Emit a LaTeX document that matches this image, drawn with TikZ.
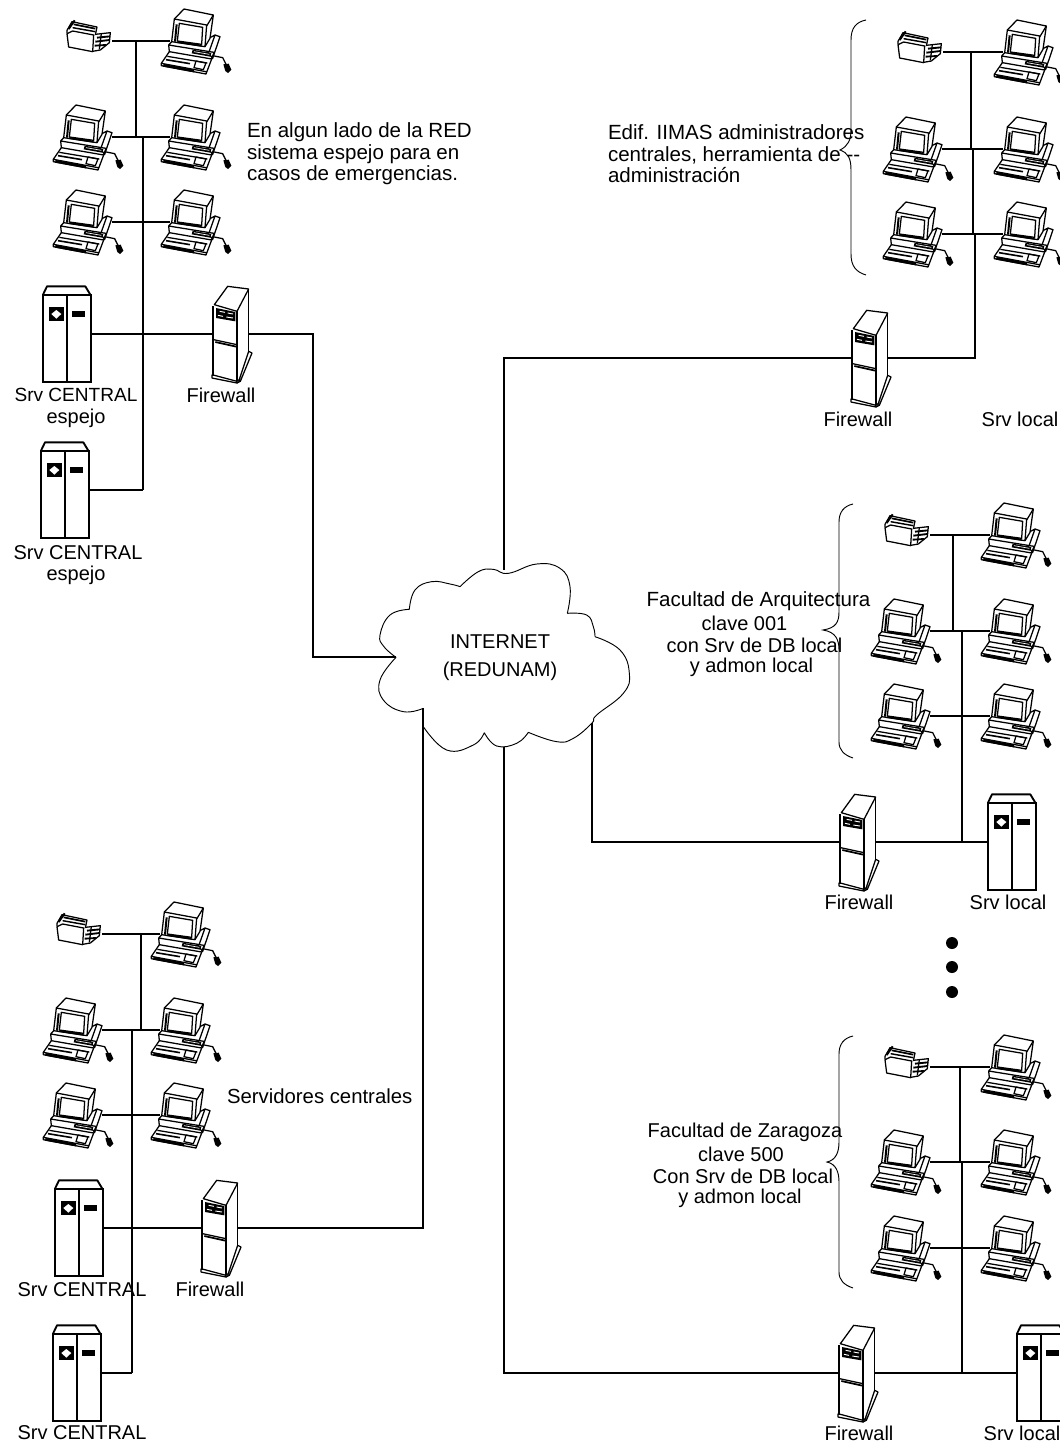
\documentclass[tikz,border=0pt]{standalone}
\usepackage{fontspec}
\setmainfont{Liberation Sans}
\tikzset{
  conn/.style={draw=black,line width=0.95pt},
  lbl/.style={inner sep=0pt,outer sep=0pt,font=\fontsize{15}{16.1}\selectfont,text=black},
  lblw/.style={lbl,font=\fontsize{15.4}{16.1}\selectfont},
  bracket/.style={draw=black,line width=0.7pt},
  thin icon/.style={draw=black,line width=0.95pt,line join=round},
  pics/pc/.style={code={
    \coordinate (-l) at (0,0);
    \coordinate (-r) at (37.5pt,0pt);
    \begin{scope}[x=0.25pt,y=-0.25pt,thin icon]
      \draw (13,-66) -- (42,-96) -- (130,-78) -- (110,-45);
      \draw (13,-66) -- (110,-48) -- (105,17) -- (5,2) -- cycle;
      \draw (28,-53) -- (98,-41) -- (95,10) -- (22,0) -- cycle;
      \draw[line width=1.5pt] (20,-50) -- (15,2);
      \draw[line width=1.5pt] (22,3) -- (95,14);
      \draw (130,-78) -- (120,-8) -- (105,17);
      \draw (135,-18) -- (150,-13) -- (128,52) -- (112,32);
      \draw (120,-10) -- (135,-18) -- (118,30);
      \draw (5,2) -- (-4,12) -- (-2,32) -- (125,54) -- (132,34) -- (-4,12);
      \draw (-26,67) -- (-2,32);
      \draw (125,54) -- (108,99) -- (-26,74) -- (-26,67) -- (108,92);
      \draw (-8,46) -- (112,66);
      \draw[line width=1.2pt] (-12,56) -- (60,68);
      \draw[line width=2pt] (-20,73) -- (72,90);
      \draw (78,60) -- (108,66) -- (100,86) -- (72,80) -- cycle;
      \fill (68,26) -- (124,36) -- (121,47) -- (65,37) -- cycle;
      \draw[white,line width=0.5pt] (72,32) -- (118,40);
      \draw (128,44) -- (158,50) -- (168,70);
      \fill (160,70) -- (176,68) -- (184,86) -- (174,96) -- (166,90) -- cycle;
    \end{scope}
  }},
  pics/prn/.style={code={
    \coordinate (-r) at (0,0);
    \begin{scope}[x=0.25pt,y=-0.25pt,thin icon]
      \draw (-135,-22) -- (-130,18) -- (-58,32) -- (-55,-18) -- (-118,-30) -- cycle;
      \draw (-135,-24) -- (-135,-32) -- (-120,-58) -- (-45,-42) -- (-50,-18);
      \draw[line width=1.5pt] (-130,-36) -- (-112,-62);
      \draw[line width=1.1pt] (-118,-40) -- (-50,-28);
      \draw[line width=1.3pt] (-115,-50) -- (-50,-37);
      \draw (-50,-20) -- (-5,-25) -- (-8,5) -- (-35,27) -- (-58,31);
      \draw[line width=1.4pt] (-45,-10) -- (-6,-14);
      \draw[line width=1.4pt] (-50,2) -- (-8,-3);
      \draw[line width=1.4pt] (-52,14) -- (-18,12);
      \draw (-32,-22) -- (-38,25);
    \end{scope}
  }},
  pics/srv/.style={code={
    \coordinate (-l) at (0,0);
    \coordinate (-r) at (36pt,0pt);
    \begin{scope}[x=0.25pt,y=-0.25pt]
      \draw[line width=1.4pt,line join=round] (0,-118) -- (12,-143) -- (127,-143) -- (142,-118);
      \draw[line width=1.5pt] (0,-118) rectangle (144,145);
      \draw[line width=1.5pt] (72,-118) -- (72,145);
      \fill (17,-81) rectangle (62,-38);
      \fill[white] (40,-72) -- (55,-60) -- (40,-46) -- (25,-60) -- cycle;
      \fill (87,-68) rectangle (125,-50);
    \end{scope}
  }},
  pics/fw/.style={code={
    \coordinate (-l) at (0,0);
    \coordinate (-r) at (26.75pt,0pt);
    \begin{scope}[x=0.25pt,y=-0.25pt,thin icon]
      \draw (4,-88) -- (44,-143) -- (107,-135) -- (72,-68) -- cycle;
      \draw (107,-135) -- (107,52);
      \draw (0,-83) -- (0,127);
      \draw (72,-68) -- (72,142);
      \fill (9,-78) -- (67,-66) -- (67,-38) -- (9,-48) -- cycle;
      \draw[white,line width=0.7pt] (20,-68) -- (36,-65) (44,-63) -- (60,-60) (15,-56) -- (30,-53) (40,-51) -- (60,-48);
      \draw (2,17) -- (72,32);
      \draw[line width=1.3pt] (7,24) -- (70,38);
      \draw (-3,122) -- (72,142) -- (77,137);
      \draw (-3,122) -- (-3,132) -- (72,147) -- (72,142);
      \draw (77,142) -- (107,52) -- (117,57) -- (82,142) -- (72,147);
    \end{scope}
  }}
}
\begin{document}
\begin{tikzpicture}[x=0.75pt,y=-0.75pt]
\useasboundingbox (0,0) rectangle (1060,1443);
\clip (0,0) rectangle (1060,1443);
\fill[white] (0,0) rectangle (1060,1443);

% cloud
\begin{scope}[shift={(360,540)},x=0.25pt,y=-0.25pt]
  \draw[black,line width=0.7pt]
    plot[smooth,tension=0.75] coordinates {(108,352) (72,320) (60,285) (90,225) (148,208)}
    plot[smooth,tension=0.75] coordinates {(148,208) (165,150) (215,125) (270,132) (300,140)}
    plot[smooth,tension=0.75] coordinates {(300,140) (355,95) (400,88) (445,100) (530,72) (600,85) (630,140) (622,220)}
    plot[smooth,tension=0.75] coordinates {(622,220) (680,225) (700,260) (705,290)}
    plot[smooth,tension=0.75] coordinates {(705,290) (780,330) (808,400) (790,460) (710,525) (695,550) (640,595) (590,605) (505,577)}
    plot[smooth,tension=0.75] coordinates {(505,577) (470,610) (410,618) (373,578)}
    plot[smooth,tension=0.75] coordinates {(373,578) (340,615) (260,630) (190,560)}
    (190,560) -- (190,505)
    plot[smooth,tension=0.75] coordinates {(190,505) (130,515) (70,480) (60,420) (108,352)};
\end{scope}
\coordinate (cloudT) at (504,570);
\coordinate (cloudL) at (396,657);
\coordinate (cloudBL) at (423,708);
\coordinate (cloudB) at (504,747);
\coordinate (cloudBR) at (592,723);
\node[lbl,align=center] (inet) at (500,658) {INTERNET\\[5pt](REDUNAM)};

% top-left group
\pic (prnA) at (112,41) {prn};
\pic (pcA1) at (170,41) {pc};
\pic (pcA2) at (62,137) {pc};
\pic (pcA3) at (170,137) {pc};
\pic (pcA4) at (62,222) {pc};
\pic (pcA5) at (170,222) {pc};
\pic (srvA1) at (43,334) {srv};
\pic (srvA2) at (41,490) {srv};
\pic (fwA) at (213,334) {fw};
\coordinate (a1) at (136,41);
\coordinate (a2) at (136,137);
\coordinate (a3) at (143,137);
\coordinate (a4) at (143,490);
\coordinate (aj) at (313,657);
\draw[conn] (prnA-r) -- (pcA1-l);
\draw[conn] (pcA2-r) -- (pcA3-l);
\draw[conn] (pcA4-r) -- (pcA5-l);
\draw[conn] (srvA1-r) -- (fwA-l);
\draw[conn] (srvA2-r) -- (a4);
\draw[conn] (a1) -- (a2);
\draw[conn] (a3) -- (a4);
\draw[conn] (fwA-r) -| (aj) -- (cloudL);
\node[lbl,font=\fontsize{14.3}{16}\selectfont] (tA1) at (76,395) {Srv CENTRAL};
\node[lbl] (tA2) at (76,418) {espejo};
\node[lbl] (tA3) at (78,553) {Srv CENTRAL};
\node[lbl] (tA4) at (76,575) {espejo};
\node[lbl] (tA5) at (221,395) {Firewall};
\node[lblw,align=left,anchor=west] (tA6) at (247,154) {En algun lado de la RED\\sistema espejo para en\\casos de emergencias.};

% top-right group
\pic (prnB) at (943,52) {prn};
\pic (pcB1) at (1003,52) {pc};
\pic (pcB2) at (892,149) {pc};
\pic (pcB3) at (1003,149) {pc};
\pic (pcB4) at (892,234) {pc};
\pic (pcB5) at (1003,234) {pc};
\pic (fwB) at (852,358) {fw};
\coordinate (b1) at (971,52);
\coordinate (b2) at (971,149);
\coordinate (b3) at (973,149);
\coordinate (b4) at (973,234);
\coordinate (b5) at (975,234);
\coordinate (b6) at (975,358);
\draw[conn] (prnB-r) -- (pcB1-l);
\draw[conn] (pcB2-r) -- (pcB3-l);
\draw[conn] (pcB4-r) -- (pcB5-l);
\draw[conn] (b1) -- (b2);
\draw[conn] (b3) -- (b4);
\draw[conn] (b5) -- (b6) -- (fwB-r);
\draw[conn] (fwB-l) -| (cloudT);
\node[lbl] (tB1) at (858,419) {Firewall};
\node[lbl] (tB2) at (1020,419) {Srv local};
\node[lblw,align=left,anchor=west] (tB3) at (608,154) {Edif. IIMAS administradores\\centrales, herramienta de {-}{-}\\administración};
\draw[bracket] (866,20) .. controls (856,22) and (851,28) .. (851,40) -- (851,130)
  .. controls (851,140) and (848,146) .. (840,150) .. controls (848,153) and (851,158) .. (851,170)
  -- (851,254) .. controls (851,266) and (856,272) .. (866,275);

% middle-right group
\pic (prnC) at (930,535) {prn};
\pic (pcC1) at (990,535) {pc};
\pic (pcC2) at (880,631) {pc};
\pic (pcC3) at (990,631) {pc};
\pic (pcC4) at (880,716) {pc};
\pic (pcC5) at (990,716) {pc};
\pic (fwC) at (840,842) {fw};
\pic (srvC) at (988,842) {srv};
\coordinate (c1) at (953,535);
\coordinate (c2) at (953,631);
\coordinate (c3) at (962,631);
\coordinate (c4) at (962,842);
\draw[conn] (prnC-r) -- (pcC1-l);
\draw[conn] (pcC2-r) -- (pcC3-l);
\draw[conn] (pcC4-r) -- (pcC5-l);
\draw[conn] (c1) -- (c2);
\draw[conn] (c3) -- (c4);
\draw[conn] (fwC-r) -- (srvC-l);
\draw[conn] (fwC-l) -| (cloudBR);
\node[lbl] (tC1) at (859,902) {Firewall};
\node[lbl] (tC2) at (1008,902) {Srv local};
\node[lblw] (tC3) at (758.5,601) {Facultad de Arquitectura};
\node[lbl] (tC4) at (744.5,623) {clave 001};
\node[lbl] (tC5) at (754.5,645) {con Srv de DB local};
\node[lbl] (tC6) at (751.5,667) {y admon local};
\draw[bracket] (853,504) .. controls (844,506) and (839,512) .. (839,522) -- (839,612)
  .. controls (839,622) and (836,628) .. (823,630) .. controls (836,632) and (839,640) .. (839,650)
  -- (839,742) .. controls (839,750) and (844,755) .. (853,758);

% dots
\fill (952,943) circle (6);
\fill (952,967) circle (6);
\fill (952,992) circle (6);

% lower-right group
\pic (prnD) at (930,1067) {prn};
\pic (pcD1) at (990,1067) {pc};
\pic (pcD2) at (880,1162) {pc};
\pic (pcD3) at (990,1162) {pc};
\pic (pcD4) at (880,1248) {pc};
\pic (pcD5) at (990,1248) {pc};
\pic (fwD) at (839,1373) {fw};
\pic (srvD) at (1017,1373) {srv};
\coordinate (d1) at (960,1067);
\coordinate (d2) at (960,1162);
\coordinate (d3) at (962,1162);
\coordinate (d4) at (962,1373);
\draw[conn] (prnD-r) -- (pcD1-l);
\draw[conn] (pcD2-r) -- (pcD3-l);
\draw[conn] (pcD4-r) -- (pcD5-l);
\draw[conn] (d1) -- (d2);
\draw[conn] (d3) -- (d4);
\draw[conn] (fwD-r) -- (srvD-l);
\draw[conn] (fwD-l) -| (cloudB);
\node[lbl] (tD1) at (859,1433) {Firewall};
\node[lbl] (tD2) at (1022,1433) {Srv local};
\node[lbl] (tD3) at (745,1132) {Facultad de Zaragoza};
\node[lbl] (tD4) at (741,1154) {clave 500};
\node[lbl] (tD5) at (743,1176) {Con Srv de DB local};
\node[lbl] (tD6) at (740,1198) {y admon local};
\draw[bracket] (853,1036) .. controls (844,1038) and (839,1044) .. (839,1054) -- (839,1142)
  .. controls (839,1152) and (836,1160) .. (827,1162) .. controls (836,1164) and (839,1172) .. (839,1182)
  -- (839,1272) .. controls (839,1280) and (844,1285) .. (853,1288);

% lower-left group
\pic (prnE) at (102,934) {prn};
\pic (pcE1) at (160,934) {pc};
\pic (pcE2) at (52,1030) {pc};
\pic (pcE3) at (160,1030) {pc};
\pic (pcE4) at (52,1115) {pc};
\pic (pcE5) at (160,1115) {pc};
\pic (srvE1) at (55,1228) {srv};
\pic (srvE2) at (53,1373) {srv};
\pic (fwE) at (202,1228) {fw};
\coordinate (e1) at (141,934);
\coordinate (e2) at (141,1030);
\coordinate (e3) at (132,1030);
\coordinate (e4) at (132,1373);
\draw[conn] (prnE-r) -- (pcE1-l);
\draw[conn] (pcE2-r) -- (pcE3-l);
\draw[conn] (pcE4-r) -- (pcE5-l);
\draw[conn] (srvE1-r) -- (fwE-l);
\draw[conn] (srvE2-r) -- (e4);
\draw[conn] (e1) -- (e2);
\draw[conn] (e3) -- (e4);
\draw[conn] (fwE-r) -| (cloudBL);
\node[lbl] (tE1) at (82,1290) {Srv CENTRAL};
\node[lbl] (tE2) at (210,1289) {Firewall};
\node[lbl] (tE3) at (82,1433) {Srv CENTRAL};
\node[lbl,anchor=west,font=\fontsize{15.25}{16}\selectfont] (tE4) at (227,1096) {Servidores centrales};
\end{tikzpicture}
\end{document}
